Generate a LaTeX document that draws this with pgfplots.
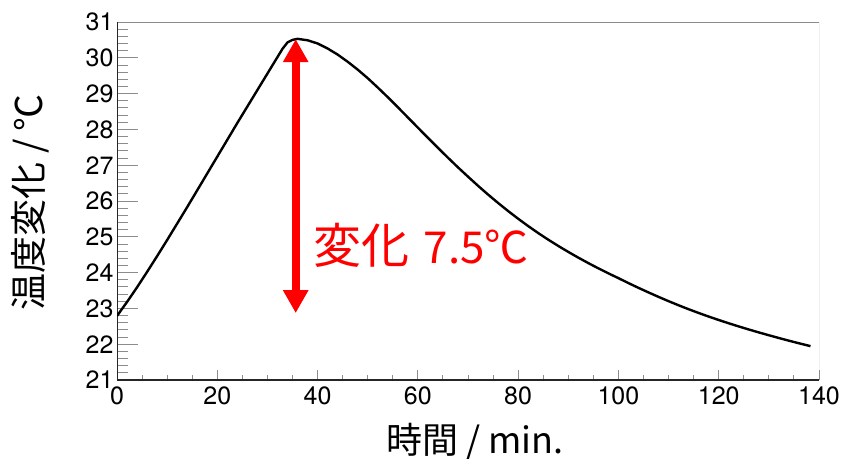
\documentclass[border=0pt]{standalone}
\usepackage{fontspec}
\setmainfont{TeX Gyre Heros}
\newfontfamily\jp{Noto Sans CJK JP}
\usepackage{pgfplots}
\pgfplotsset{compat=1.18}
\usepackage{pgfplotstable}
\usetikzlibrary{arrows.meta}
\pgfplotstableread{
x y
0 22.79
2 23.18
4 23.59
6 24.02
8 24.46
10 24.91
12 25.37
14 25.83
16 26.30
18 26.77
20 27.24
22 27.71
24 28.18
26 28.64
28 29.10
30 29.56
32 30.02
33 30.25
34 30.43
35 30.50
36 30.53
38 30.49
40 30.40
42 30.26
44 30.09
46 29.89
48 29.67
50 29.43
52 29.17
54 28.90
56 28.62
58 28.335
60 28.05
62 27.765
64 27.485
66 27.21
68 26.94
70 26.68
72 26.425
74 26.18
76 25.945
78 25.72
80 25.505
82 25.30
84 25.105
86 24.92
88 24.745
90 24.578
92 24.418
94 24.265
96 24.119
98 23.979
100 23.845
102 23.707
104 23.574
106 23.446
108 23.322
110 23.202
112 23.087
114 22.977
116 22.872
118 22.772
120 22.676
122 22.584
124 22.496
126 22.411
128 22.329
130 22.25
132 22.173
134 22.098
136 22.026
138 21.956
138.3 21.946
}\datatable
\begin{document}
\begin{tikzpicture}
\pgfplotsset{base/.style={
  at={(117pt,-380pt)}, anchor=south west, scale only axis,
  width=702pt, height=358pt,
  xmin=0, xmax=140, ymin=21, ymax=31,
  axis line style={draw=none},
  tick style={color=black!45, line width=0.9pt},
  /pgf/number format/assume math mode=true,
  tick label style={font=\fontsize{25}{30}\selectfont},
  tick align=inside,
}}
\begin{axis}[base,
  xtick=\empty,
  ytick={21,22,...,31}, minor y tick num=4, ytick pos=left,
  major tick length=21pt, minor tick length=11pt,
]
\end{axis}
\begin{axis}[base,
  ytick=\empty,
  xtick={0,20,...,140}, minor x tick num=3, xtick pos=left,
  major tick length=10pt, minor tick length=5pt,
  xticklabel style={yshift=-3pt},
]
\draw[black!45, line width=0.9pt] (rel axis cs:0,1) -- (rel axis cs:1,1) -- (rel axis cs:1,0);
\draw[black!85, line width=1.2pt] (rel axis cs:0,1) -- (rel axis cs:0,0) -- (rel axis cs:1,0);
\addplot[black, line width=2.4pt, line join=round] table[x=x,y=y] {\datatable};
\draw[red, line width=8pt, {Triangle[width=24pt,length=23pt]}-{Triangle[width=24pt,length=23pt]}] (axis cs:35.64,22.87) -- (axis cs:35.64,30.52);
\end{axis}
\node[anchor=base west, inner sep=0pt, text=red, font=\jp\fontsize{48}{52}\selectfont] at (313pt,-263pt) {変化\hspace{0.3em}{\fontsize{44}{50}\selectfont 7.5℃}};
\node[anchor=base, inner sep=0pt, font=\jp\fontsize{36}{40}\selectfont] at (475pt,-453pt) {時間 / min.};
\node[anchor=base, rotate=90, inner sep=0pt, font=\jp\fontsize{37}{40}\selectfont] at (42pt,-202pt) {温度変化 / ℃};
\pgfresetboundingbox
\path (0pt,0pt) rectangle (846pt,-458pt);
\end{tikzpicture}
\end{document}
